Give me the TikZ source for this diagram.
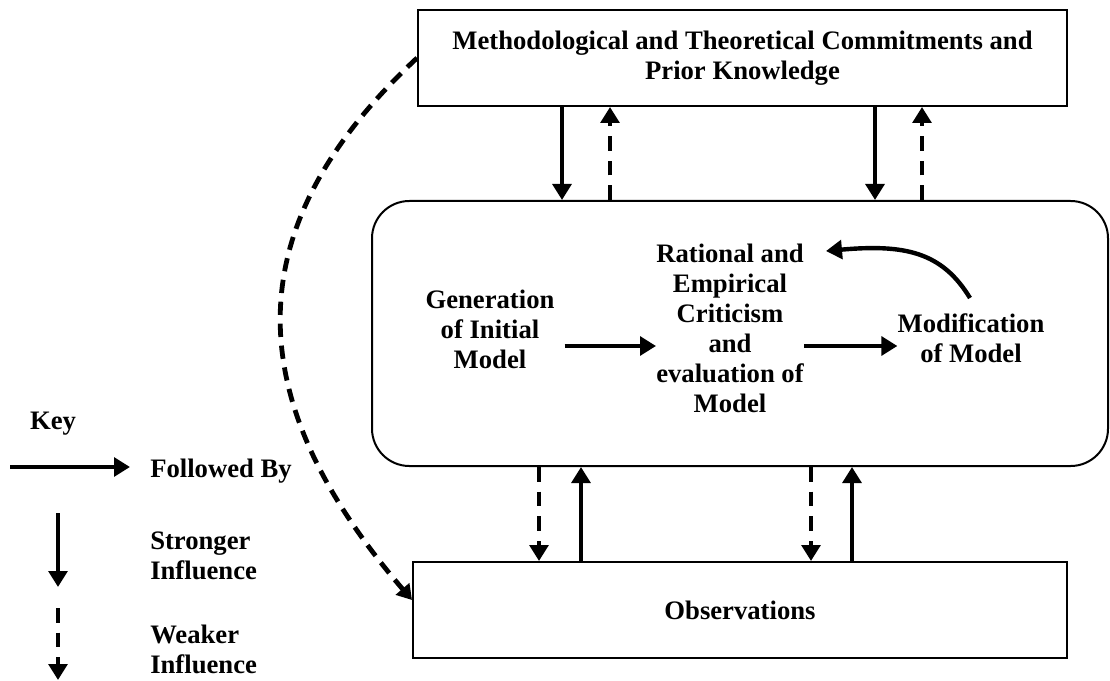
\documentclass[tikz,border=0pt]{standalone}
\usepackage{fontspec}
\setmainfont{Liberation Serif}
\usetikzlibrary{arrows.meta}
\begin{document}
\begin{tikzpicture}[x=0.75pt,y=-0.75pt,
  txt/.style={font=\fontsize{20}{22.5}\selectfont\bfseries, align=center, inner sep=0pt},
  box/.style={draw, line width=1.5pt, inner sep=0pt, font=\fontsize{20}{22.5}\selectfont\bfseries, align=center},
  strong/.style={line width=3.3pt, -{Triangle[width=14pt,length=12pt]}},
  weak/.style={strong, dash pattern=on 11pt off 7.5pt},
  curvy/.style={line width=3.6pt, dash pattern=on 10pt off 6.5pt, -{Triangle[width=13pt,length=11pt]}},
]
\useasboundingbox (0,0) rectangle (1110,681);

% main boxes
\node[box, minimum width=486.75pt, minimum height=72pt] (top) at (742.5,58)
  {Methodological and Theoretical Commitments and\\Prior Knowledge};
\node[box, rounded corners=28pt, minimum width=552pt, minimum height=198.75pt] (mid) at (740,333.5) {};
\node[box, minimum width=490.5pt, minimum height=72pt] (obs) at (740,610) {Observations};

% inner texts
\node[txt] (gen) at (490,329) {Generation\\of Initial\\Model};
\node[txt] (rat) at (730,328.5) {Rational and\\Empirical\\Criticism\\and\\evaluation of\\Model};
\node[txt] (mod) at (971,338.5) {Modification\\of Model};

% helper coordinates
\coordinate (a1) at (562,0);
\coordinate (a2) at (610,0);
\coordinate (a3) at (875,0);
\coordinate (a4) at (922,0);
\coordinate (b1) at (539,0);
\coordinate (b2) at (581,0);
\coordinate (b3) at (811,0);
\coordinate (b4) at (852,0);
\coordinate (h) at (0,346);

% top <-> mid
\draw[strong] (top.south -| a1) -- (mid.north -| a1);
\draw[weak] (mid.north -| a2) -- (top.south -| a2);
\draw[strong] (top.south -| a3) -- (mid.north -| a3);
\draw[weak] (mid.north -| a4) -- (top.south -| a4);

% mid <-> obs
\draw[weak] (mid.south -| b1) -- (obs.north -| b1);
\draw[strong] (obs.north -| b2) -- (mid.south -| b2);
\draw[weak] (mid.south -| b3) -- (obs.north -| b3);
\draw[strong] (obs.north -| b4) -- (mid.south -| b4);

% inner flow
\draw[strong] ([xshift=7.5pt]gen.east |- h) -- (rat.west |- h);
\draw[strong] (rat.east |- h) -- (mod.west |- h);
\coordinate (cs) at (970,298);
\coordinate (ce) at (826,251);
\draw[strong] (cs) .. controls (942,252) and (905,244) .. (ce);

% long dashed influence
\draw[curvy] (top.west) .. controls (238,225) and (236,395) .. ([yshift=7.5pt]obs.west);

% key
\node[txt, anchor=base] (key) at (53,429) {Key};
\coordinate (k1s) at (10,467);
\coordinate (k1e) at (130,467);
\draw[strong] (k1s) -- (k1e);
\node[txt, anchor=base west] (fb) at (150,477) {Followed By};
\coordinate (k2s) at (58,513);
\coordinate (k2e) at (58,587);
\draw[strong] (k2s) -- (k2e);
\node[txt, align=left, anchor=west] (si) at (150,555.5) {Stronger\\Influence};
\coordinate (k3s) at (58,608);
\coordinate (k3e) at (58,680);
\draw[weak] (k3s) -- (k3e);
\node[txt, align=left, anchor=west] (wi) at (150,649.5) {Weaker\\Influence};
\end{tikzpicture}
\end{document}
